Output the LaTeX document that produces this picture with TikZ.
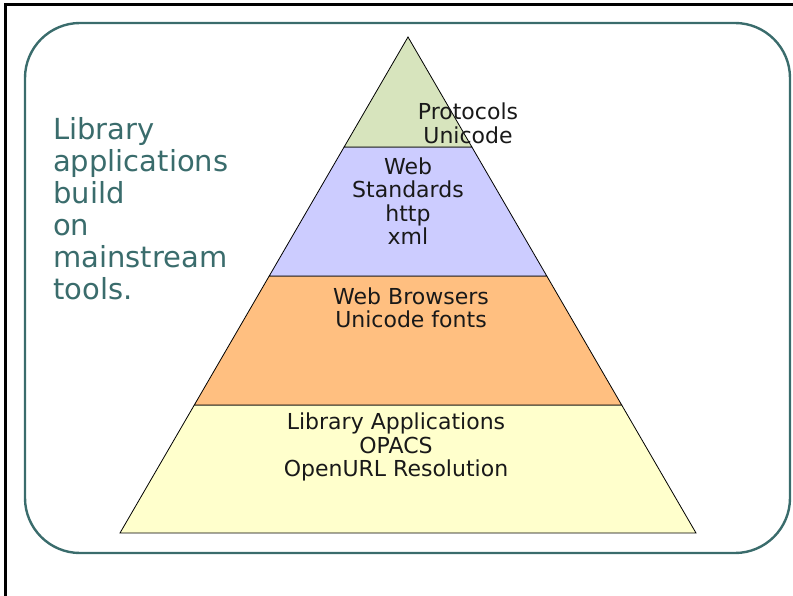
\documentclass[tikz,border=0pt]{standalone}
\usepackage{fontspec}
\setmainfont{DejaVu Sans}
\usepackage{tikz}
\usetikzlibrary{calc,positioning}

\definecolor{slateteal}{HTML}{3A6C6C}
\definecolor{layergreen}{HTML}{D7E4BD}
\definecolor{layerblue}{HTML}{CCCCFF}
\definecolor{layerorange}{HTML}{FFBF80}
\definecolor{layeryellow}{HTML}{FFFFCC}

\begin{document}
\begin{tikzpicture}[x=1pt, y=-1pt,
    layer/.style = {draw=black, line width=0.8pt},
    layertext/.style = {align=center, inner sep=0pt, text=black!90,
        font=\fontsize{22}{23.5}\selectfont},
    sidetext/.style = {align=left, inner sep=0pt, text=slateteal,
        font=\fontsize{29}{32}\selectfont}]

    \useasboundingbox (0,0) rectangle (793,596);

    % slide frame
    \draw[line width=3pt] (793,5) -- (5,5) -- (5,596);
    \draw[slateteal, line width=2.4pt, rounded corners=55pt] (25,23) rectangle (790,553);

    % pyramid corners
    \coordinate (A) at (408,37);
    \coordinate (L) at (120,533);
    \coordinate (R) at (696,533);

    % layer boundaries
    \coordinate (L1) at ($(A)!0.2218!(L)$);
    \coordinate (R1) at ($(A)!0.2218!(R)$);
    \coordinate (L2) at ($(A)!0.4819!(L)$);
    \coordinate (R2) at ($(A)!0.4819!(R)$);
    \coordinate (L3) at ($(A)!0.7419!(L)$);
    \coordinate (R3) at ($(A)!0.7419!(R)$);

    \filldraw[layer, fill=layeryellow] (L3) -- (R3) -- (R) -- (L) -- cycle;
    \filldraw[layer, fill=layerorange] (L2) -- (R2) -- (R3) -- (L3) -- cycle;
    \filldraw[layer, fill=layerblue] (L1) -- (R1) -- (R2) -- (L2) -- cycle;
    \filldraw[layer, fill=layergreen] (A) -- (R1) -- (L1) -- cycle;

    \node[layertext] (protocols) at (468,123.5) {Protocols\\Unicode};
    \node[layertext] (standards) at (408,201) {Web\\Standards\\http\\xml};
    \node[layertext] (browsers) at (411,308) {Web Browsers\\Unicode fonts};
    \node[layertext] (apps) at (396,447) {Library Applications\\OPACS\\OpenURL Resolution};

    \node[sidetext, anchor=west] (claim) at (53,209) {Library\\applications\\build\\on\\mainstream\\tools.};

\end{tikzpicture}
\end{document}
